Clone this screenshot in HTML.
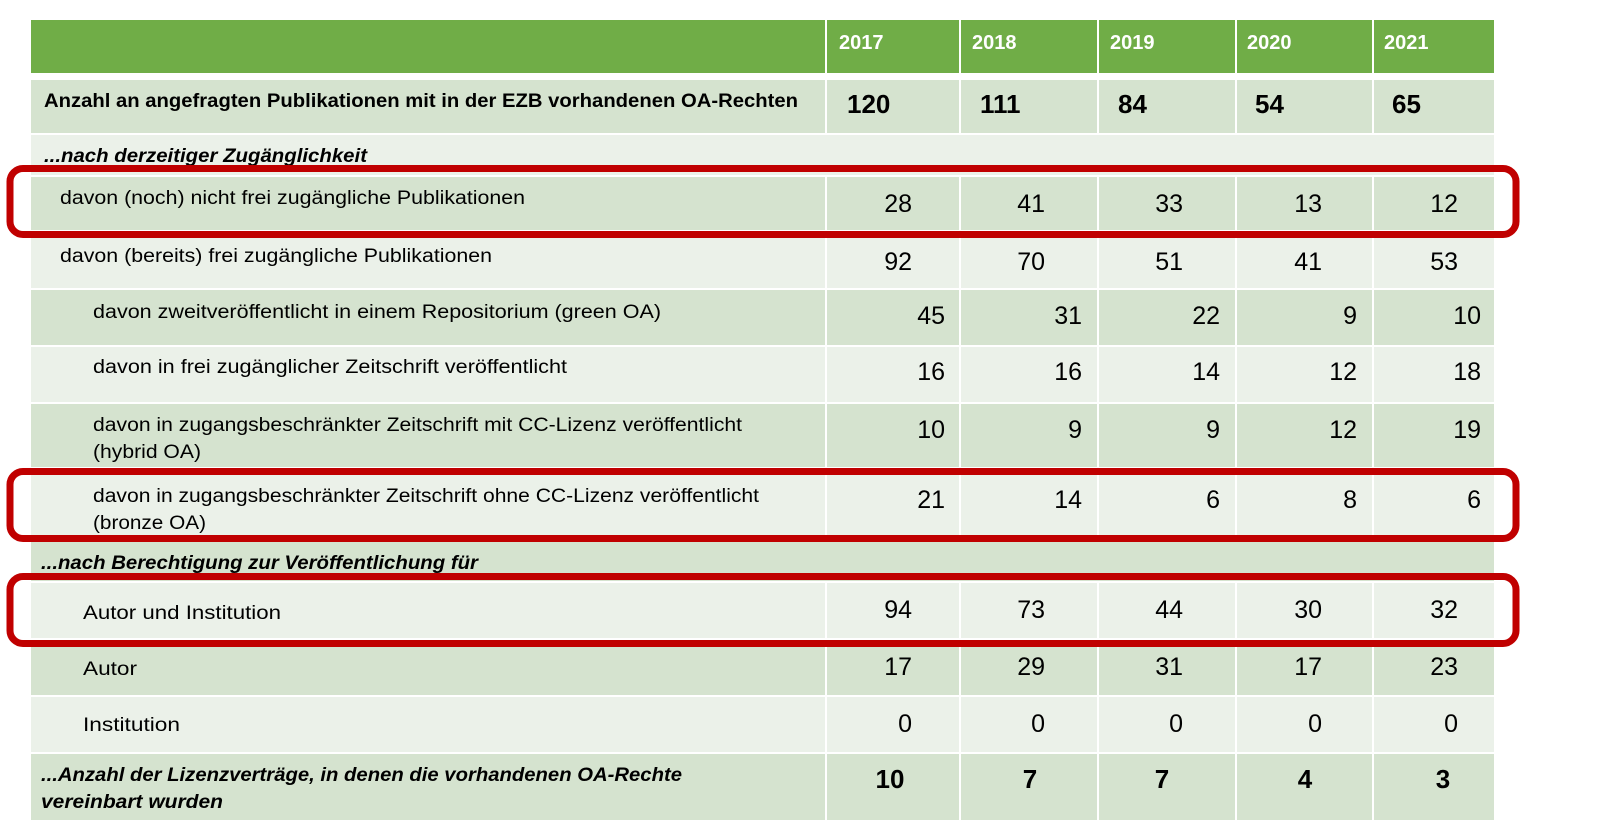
<!DOCTYPE html>
<html><head><meta charset="utf-8"><style>
html,body{margin:0;padding:0;background:#fff;}
svg{display:block;font-family:"Liberation Sans",sans-serif;}
</style></head><body>
<svg id="tbl" width="1618" height="826" viewBox="0 0 1618 826" xmlns="http://www.w3.org/2000/svg"></svg>
<script>
const years = ["2017","2018","2019","2020","2021"];
const rowLabels = [
 ["Anzahl an angefragten Publikationen mit in der EZB vorhandenen OA-Rechten"],
 ["...nach derzeitiger Zugänglichkeit"],
 ["davon (noch) nicht frei zugängliche Publikationen"],
 ["davon (bereits) frei zugängliche Publikationen"],
 ["davon zweitveröffentlicht in einem Repositorium (green OA)"],
 ["davon in frei zugänglicher Zeitschrift veröffentlicht"],
 ["davon in zugangsbeschränkter Zeitschrift mit CC-Lizenz veröffentlicht","(hybrid OA)"],
 ["davon in zugangsbeschränkter Zeitschrift ohne CC-Lizenz veröffentlicht","(bronze OA)"],
 ["...nach Berechtigung zur Veröffentlichung für"],
 ["Autor und Institution"],
 ["Autor"],
 ["Institution"],
 ["...Anzahl der Lizenzverträge, in denen die vorhandenen OA-Rechte","vereinbart wurden"]
];
const totalRequested = [120,111,84,54,65];
const notFree = [28,41,33,13,12];
const alreadyFree = [92,70,51,41,53];
const greenOA = [45,31,22,9,10];
const freeJournal = [16,16,14,12,18];
const hybridOA = [10,9,9,12,19];
const bronzeOA = [21,14,6,8,6];
const authorAndInst = [94,73,44,30,32];
const authorOnly = [17,29,31,17,23];
const instOnly = [0,0,0,0,0];
const licenseCount = [10,7,7,4,3];
const rowValues = [totalRequested,null,notFree,alreadyFree,greenOA,freeJournal,hybridOA,bronzeOA,null,authorAndInst,authorOnly,instOnly,licenseCount];

const NS="http://www.w3.org/2000/svg";
const svg=document.getElementById('tbl');
function mk(tag,attrs,parent){const e=document.createElementNS(NS,tag);for(const k in attrs)e.setAttribute(k,attrs[k]);(parent||svg).appendChild(e);return e;}

// layout
const colX=[[31,825],[827,959],[961,1097],[1099,1235],[1237,1372],[1374,1494]];
const rowsY=[[80,133],[135,175],[177,230],[232,288],[290,345],[347,402],[404,467],[469,537],[539,581],[583,638],[640,695],[697,752],[754,820]];
const dark="#D5E3CF", light="#EBF1E9";
const spanRows=[1,8];
const labelX=[44,44,60,60,93,93,93,93,41,83,83,83,41];
const labelStyle=["b","bi","n","n","n","n","n","n","bi","n","n","n","bi"];
const labelBase=[[107],[162],[204],[262],[318],[373],[431,458],[502,529],[569],[619],[675],[731],[781,808]];
const labelLen=[[754],[323],[465],[432],[568],[474],[649,108],[666,113],[437],[198],[54],[97],[641,182]];
const valBase=[113,null,212,270,324,380,438,508,null,618,675,732,788];
const valAlign=["start",null,"end","end","end","end","end","end",null,"end","end","end","middle"];
const posStart=[847,980,1118,1255,1392];
const posEndA=[912,1045,1183,1322,1458];
const posEndB=[945,1082,1220,1357,1481];
const posMid=[890,1030,1162,1305,1443];

// header
const hdr=mk('g',{});


colX.forEach((c,i)=>{
  const r=mk('rect',{x:c[0],y:20,width:c[1]-c[0],height:53,fill:"#70AD47"},hdr);
  if(i>0){
    const t=mk('text',{x:posStart[i-1]-8,y:49,fill:"#fff","font-size":20,"font-weight":"bold"},hdr);
    t.textContent=years[i-1];
    
    
  }
});

rowsY.forEach((ry,ri)=>{
  const g=mk('g',{});
  
  
  const fill=ri%2===0?dark:light;
  if(spanRows.includes(ri)){
    mk('rect',{x:31,y:ry[0],width:1463,height:ry[1]-ry[0],fill:fill},g);
  } else {
    colX.forEach(c=>mk('rect',{x:c[0],y:ry[0],width:c[1]-c[0],height:ry[1]-ry[0],fill:fill},g));
  }
  rowLabels[ri].forEach((line,li)=>{
    const st=labelStyle[ri];
    const t=mk('text',{x:labelX[ri],y:labelBase[ri][li],"font-size":19,fill:"#000",
      textLength:labelLen[ri][li],lengthAdjust:"spacingAndGlyphs",
      "font-weight":st!=="n"?"bold":"normal","font-style":st==="bi"?"italic":"normal"},g);
    t.textContent=line;
    
    
  });
  const vals=rowValues[ri];
  if(vals){
    const al=valAlign[ri];
    const pos=al==="start"?posStart:(al==="middle"?posMid:((ri>=4&&ri<=7)?posEndB:posEndA));
    const bold=(ri===0||ri===12);
    vals.forEach((v,vi)=>{
      const t=mk('text',{x:pos[vi],y:valBase[ri],"text-anchor":al,"font-size":bold?26:25,
        "font-weight":bold?"bold":"normal",fill:"#000"},g);
      t.textContent=String(v);
      
      
    });
  }
});

// highlight boxes
const boxes=[[165,238],[468,542],[573,647]];
boxes.forEach((b,i)=>{
  const r=mk('rect',{x:10,y:b[0]+3.5,width:1506,height:b[1]-b[0]-7,rx:13,ry:13,fill:"none",stroke:"#C00000","stroke-width":7});
  
  
});
</script>
</body></html>
